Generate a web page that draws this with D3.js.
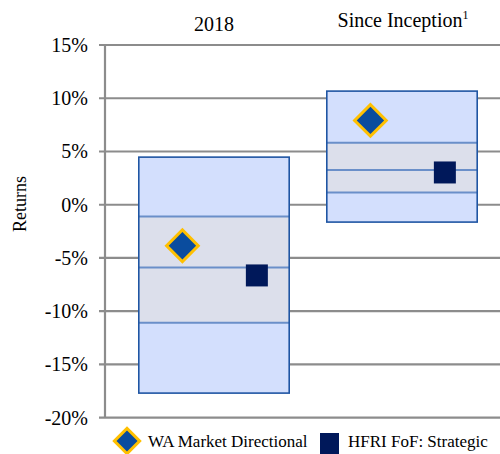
<!DOCTYPE html>
<html>
<head>
<meta charset="utf-8">
<script src="https://cdn.jsdelivr.net/npm/d3@7"></script>
<style>
  html, body { margin: 0; padding: 0; background: #fff; }
  svg { display: block; }
</style>
</head>
<body>
<svg id="chart" width="500" height="454"></svg>
<script>
// данные
const categories = ["2018", "Since Inception"];
const series = ["WA Market Directional", "HFRI FoF: Strategic"];
// диапазоны (квартили): верх, верхний квартиль, медиана, нижний квартиль, низ
const rangeTop = [4.47, 10.67];
const upperQuartile = [-1.1, 5.82];
const median = [-5.9, 3.25];
const lowerQuartile = [-11.08, 1.15];
const rangeBottom = [-17.69, -1.63];
const waValues = [-3.85, 7.92];
const hfriValues = [-6.64, 3.03];
const yTicks = [-20, -15, -10, -5, 0, 5, 10, 15];

const svg = d3.select("#chart")
  .attr("font-family", "'Liberation Serif', 'Times New Roman', Times, serif");
const width = 500, height = 454;
const axisX = 105;

const y = d3.scaleLinear().domain([-20, 15]).range([417.7, 45]);
const x = d3.scaleBand().domain(categories).range([120, 496])
  .paddingInner(0.2).paddingOuter(0.1);
const bw = x.bandwidth();
const xs = d3.scalePoint().domain(series).range([bw * 0.29, bw * 0.785]);

const grey = "#8c8c8c";

// сетка
svg.append("g").selectAll("line").data(yTicks).join("line")
  .attr("x1", axisX - 6).attr("x2", width)
  .attr("y1", d => y(d)).attr("y2", d => y(d))
  .attr("stroke", grey).attr("stroke-width", 2.2);

// вертикальная ось
svg.append("line")
  .attr("x1", axisX).attr("x2", axisX)
  .attr("y1", y(15)).attr("y2", y(-20))
  .attr("stroke", grey).attr("stroke-width", 2.2);

// подписи оси Y
svg.append("g").selectAll("text").data(yTicks).join("text")
  .attr("x", 88).attr("y", d => y(d) + 7)
  .attr("text-anchor", "end")
  .attr("font-size", "20px")
  .text(d => d + "%");

svg.append("text")
  .attr("transform", "translate(26,204) rotate(-90)")
  .attr("text-anchor", "middle")
  .attr("font-size", "18px")
  .text("Returns");

// заголовки категорий
svg.append("text")
  .attr("x", x(categories[0]) + bw / 2).attr("y", 31)
  .attr("text-anchor", "middle")
  .attr("font-size", "20px")
  .text(categories[0]);

const t2 = svg.append("text")
  .attr("x", x(categories[1]) + bw / 2 + 1).attr("y", 27)
  .attr("text-anchor", "middle")
  .attr("font-size", "20px");
t2.append("tspan").text(categories[1]);
t2.append("tspan").attr("font-size", "12px").attr("dy", -8).text("1");

// боксы
categories.forEach((c, i) => {
  const g = svg.append("g").attr("transform", `translate(${x(c)},0)`);
  g.append("rect")
    .attr("x", 0).attr("width", bw)
    .attr("y", y(rangeTop[i])).attr("height", y(rangeBottom[i]) - y(rangeTop[i]))
    .attr("fill", "#d3dffd");
  g.append("rect")
    .attr("x", 0).attr("width", bw)
    .attr("y", y(upperQuartile[i])).attr("height", y(lowerQuartile[i]) - y(upperQuartile[i]))
    .attr("fill", "#dcdfeb");
  [upperQuartile[i], median[i], lowerQuartile[i]].forEach(v => {
    g.append("line")
      .attr("x1", 0).attr("x2", bw)
      .attr("y1", y(v)).attr("y2", y(v))
      .attr("stroke", "#6a8fc9").attr("stroke-width", 2);
  });
  g.append("rect")
    .attr("x", 0).attr("width", bw)
    .attr("y", y(rangeTop[i])).attr("height", y(rangeBottom[i]) - y(rangeTop[i]))
    .attr("fill", "none")
    .attr("stroke", "#1f55a3").attr("stroke-width", 1.6);

  // маркеры
  g.append("path")
    .attr("d", d3.symbol().type(d3.symbolSquare).size(500)())
    .attr("transform", `translate(${xs(series[0])},${y(waValues[i])}) rotate(45)`)
    .attr("fill", "#0a4c9e")
    .attr("stroke", "#ffc000").attr("stroke-width", 3);
  g.append("path")
    .attr("d", d3.symbol().type(d3.symbolSquare).size(484)())
    .attr("transform", `translate(${xs(series[1])},${y(hfriValues[i])})`)
    .attr("fill", "#00185a");
});

// легенда
const lg = svg.append("g");
lg.append("path")
  .attr("d", d3.symbol().type(d3.symbolSquare).size(320)())
  .attr("transform", "translate(127,441) rotate(45)")
  .attr("fill", "#0a4c9e")
  .attr("stroke", "#ffc000").attr("stroke-width", 3);
lg.append("text").attr("x", 148).attr("y", 447)
  .attr("font-size", "17px").text(series[0]);
lg.append("rect")
  .attr("x", 320).attr("y", 433).attr("width", 19).attr("height", 22)
  .attr("fill", "#00185a");
lg.append("text").attr("x", 348).attr("y", 447)
  .attr("font-size", "17px").text(series[1]);
</script>
</body>
</html>
